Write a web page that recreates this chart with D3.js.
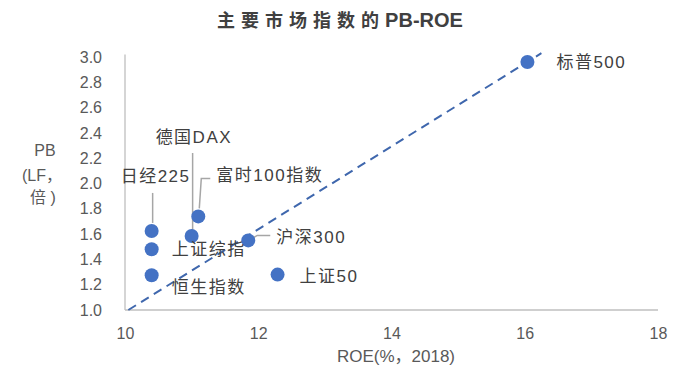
<!DOCTYPE html>
<html><head><meta charset="utf-8">
<script src="https://cdn.jsdelivr.net/npm/d3@7"></script>
<style>
body{margin:0;background:#fff;}
text{font-family:"Liberation Sans",Arial,"Noto Sans CJK SC",sans-serif;}
</style></head>
<body><svg id="c" width="680" height="375"></svg>
<script>
const names = ["标普500","日经225","上证综指","恒生指数","德国DAX","富时100指数","沪深300","上证50"];
const roe = [16.04,10.40,10.40,10.40,11.00,11.10,11.85,12.29];
const pb = [2.96,1.625,1.48,1.275,1.585,1.74,1.55,1.28];
const trendX = [10.05,16.25];
const trendY = [1.0,3.03];
const xTicks = [10,12,14,16,18];
const yTicks = [1.0,1.2,1.4,1.6,1.8,2.0,2.2,2.4,2.6,2.8,3.0];

const svg = d3.select("#c");
const x = d3.scaleLinear().domain([10,18]).range([125,658]);
const y = d3.scaleLinear().domain([1,3]).range([310,57]);
const gray = "#595959";

const title = svg.append("text").attr("x",340).attr("y",27).attr("text-anchor","middle")
  .attr("font-weight","bold").attr("fill","#404040");
title.append("tspan").attr("font-size",18).attr("letter-spacing",6).text("主要市场指数的");
title.append("tspan").attr("font-size",20).text("PB-ROE");

// axes
const ya = svg.append("g").attr("transform","translate(125,0)")
  .call(d3.axisLeft(y).tickValues(yTicks).tickSize(0).tickPadding(23).tickFormat(d3.format(".1f")));
const xa = svg.append("g").attr("transform","translate(0,310)")
  .call(d3.axisBottom(x).tickValues(xTicks).tickSize(0).tickPadding(18).tickFormat(d3.format("d")));
[ya,xa].forEach(g=>{
  g.select(".domain").attr("stroke","#bfbfbf").attr("stroke-width",1.3);
  g.selectAll("text").attr("font-size",16).attr("fill",gray).attr("font-family","Liberation Sans, Arial, sans-serif");
});
ya.select(".domain").attr("d","M0,"+y(3.02)+"V310");
xa.select(".domain").attr("d","M125,0H658");

// axis titles
svg.append("text").attr("x",396).attr("y",362).attr("text-anchor","middle")
  .attr("font-size",17).attr("fill",gray).text("ROE(%，2018)");
const yt = svg.append("text").attr("text-anchor","middle").attr("font-size",16).attr("fill",gray);
yt.append("tspan").attr("x",45).attr("y",156).text("PB");
yt.append("tspan").attr("x",42).attr("y",181).text("(LF，");
yt.append("tspan").attr("x",43).attr("y",203).text("倍 )");

// trend line
svg.append("line").attr("x1",x(trendX[0])).attr("y1",y(trendY[0]))
  .attr("x2",x(trendX[1])).attr("y2",y(trendY[1]))
  .attr("stroke","#3f67ad").attr("stroke-width",2).attr("stroke-dasharray","9,6");

// leader lines (relative to points)
const lc = "#a6a6a6";
function px(i){return x(roe[i]);} function py(i){return y(pb[i]);}
svg.append("path").attr("fill","none").attr("stroke",lc).attr("stroke-width",1.5)
  .attr("d",`M${px(1)+1},${py(1)-8}V${py(1)-38}`);
svg.append("path").attr("fill","none").attr("stroke",lc).attr("stroke-width",1.5)
  .attr("d",`M${px(4)+1},${py(4)-5}V${py(4)-83}`);
svg.append("path").attr("fill","none").attr("stroke",lc).attr("stroke-width",1.5)
  .attr("d",`M${px(5)+1},${py(5)-8}L${px(5)+3},${py(5)-38}H${px(5)+12}`);
svg.append("path").attr("fill","none").attr("stroke",lc).attr("stroke-width",1.5)
  .attr("d",`M${px(6)+2},${py(6)-1}L${px(6)+9},${py(6)-5}H${px(6)+22}`);

// points
svg.selectAll("circle.pt").data(roe).join("circle").attr("class","pt")
  .attr("cx",(d)=>x(d)).attr("cy",(d,i)=>y(pb[i])).attr("r",7).attr("fill","#4472c4");

// labels
const lab = [[29,6],[-31,-49],[20,6],[20,18],[-36,-93],[18,-35],[28,3],[22,7]];
svg.selectAll("text.lb").data(names).join("text").attr("class","lb")
  .attr("x",(d,i)=>px(i)+lab[i][0]).attr("y",(d,i)=>py(i)+lab[i][1])
  .attr("font-size",17).attr("fill","#404040").attr("letter-spacing",1.5).text(d=>d);
</script></body></html>
